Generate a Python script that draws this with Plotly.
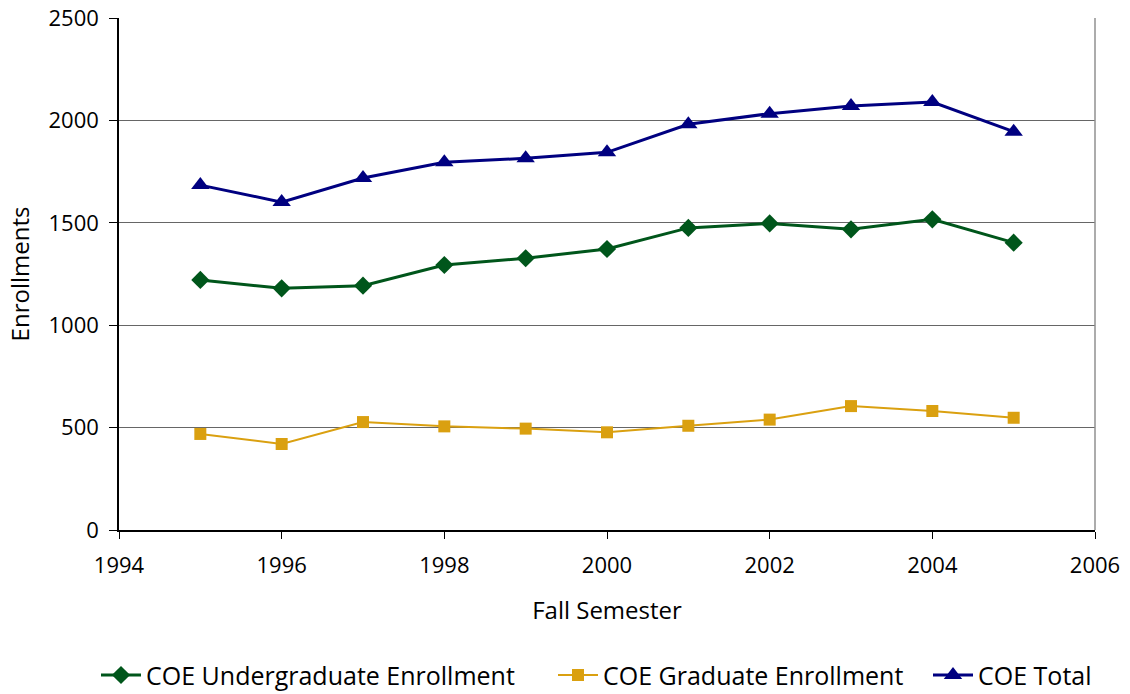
import plotly.graph_objects as go

years = [1995, 1996, 1997, 1998, 1999, 2000, 2001, 2002, 2003, 2004, 2005]
undergrad = [1221, 1180, 1193, 1294, 1327, 1372, 1475, 1497, 1468, 1517, 1403]
graduate = [469, 420, 527, 506, 495, 477, 509, 539, 605, 581, 548]
total = [1684, 1601, 1719, 1796, 1815, 1844, 1981, 2033, 2070, 2090, 1945]

FONT = "Open Sans"

fig = go.Figure()
fig.add_trace(go.Scatter(
    x=years, y=undergrad, mode="lines+markers",
    name="COE Undergraduate Enrollment", legend="legend",
    line=dict(color="#00561B", width=3),
    marker=dict(symbol="diamond", size=14, color="#00561B"),
))
fig.add_trace(go.Scatter(
    x=years, y=graduate, mode="lines+markers",
    name="COE Graduate Enrollment", legend="legend2",
    line=dict(color="#DAA010", width=2),
    marker=dict(symbol="square", size=12, color="#DAA010"),
))
fig.add_trace(go.Scatter(
    x=years, y=total, mode="lines+markers",
    name="COE Total", legend="legend3",
    line=dict(color="#000080", width=3),
    marker=dict(symbol="triangle-up", size=16, color="#000080"),
))

leg_common = dict(orientation="h", xref="container", yref="container",
                  y=0.027, yanchor="middle", xanchor="left",
                  font=dict(size=25, family=FONT), itemwidth=40,
                  bgcolor="rgba(0,0,0,0)")

fig.update_layout(
    width=1130, height=694,
    margin=dict(l=119, r=35, t=18, b=164, autoexpand=False),
    paper_bgcolor="white", plot_bgcolor="white",
    font=dict(family=FONT, size=20, color="black"),
    showlegend=True,
    legend=dict(x=96 / 1130, **leg_common),
    legend2=dict(x=553 / 1130, **leg_common),
    legend3=dict(x=928 / 1130, **leg_common),
)
fig.update_xaxes(
    range=[1994, 2006], tickmode="linear", tick0=1994, dtick=2,
    showgrid=False, showline=True, linecolor="black", linewidth=1.5,
    ticks="outside", ticklen=7, tickcolor="black",
    mirror=False, zeroline=False, automargin=False,
    ticklabelstandoff=8,
    title=dict(text="Fall Semester", standoff=24),
    tickfont=dict(size=22),
)
fig.update_yaxes(
    range=[0, 2500], tickmode="linear", tick0=0, dtick=500,
    showgrid=True, gridcolor="#666666", gridwidth=1,
    showline=True, linecolor="black", linewidth=1.5,
    ticks="outside", ticklen=8, tickcolor="black",
    zeroline=False, automargin=False,
    ticklabelstandoff=6,
    title=dict(text="Enrollments", standoff=12),
    tickfont=dict(size=22),
)
# right border of plot area
fig.add_shape(type="line", xref="paper", yref="paper", x0=1, x1=1, y0=0, y1=1,
              line=dict(color="#909090", width=1.5))

fig.write_html("out.html")
